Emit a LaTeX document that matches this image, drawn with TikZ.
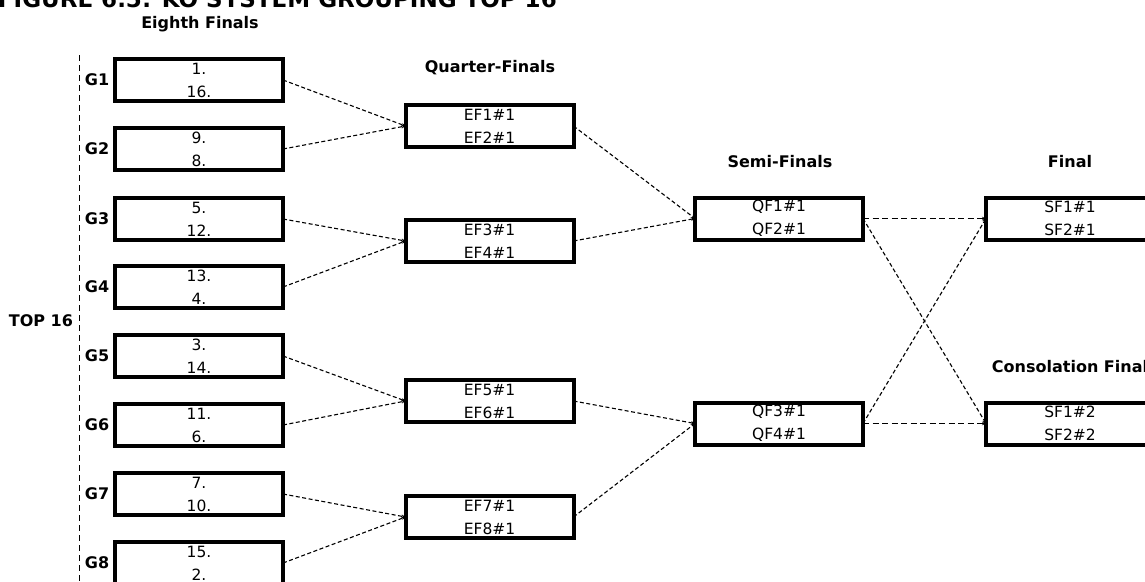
\documentclass[tikz,border=0pt]{standalone}
\usepackage{fontspec}
\setmainfont{DejaVu Sans}
\usetikzlibrary{
  arrows.meta,     % small tips on the connectors
  positioning
}
\tikzset{
  every node/.style = {inner sep=0pt, outer sep=0pt},
  match/.style = {
    rectangle,
    draw,
    line width=4pt,
    minimum width=168pt,
    minimum height=42pt,
    align=center,
    font=\fontsize{15.5}{23}\selectfont
  },
  stage/.style = {font=\fontsize{16}{18}\selectfont\bfseries},
  group/.style = {stage, anchor=center},
  title/.style = {font=\fontsize{23}{26}\selectfont\bfseries, anchor=base west},
  link/.style = {draw, dash pattern=on 4pt off 2.5pt, line width=1.1pt, ->},
  straight/.style = {link, dash pattern=on 6pt off 3.5pt},
  bracket/.style = {draw, dash pattern=on 6pt off 4pt, line width=1pt},
  >={Stealth[length=4pt,width=3.5pt]}  % arrow type
}

\begin{document}
\begin{tikzpicture}[x=1pt, y=-1pt]
\useasboundingbox (0,0) rectangle (1145,581);
\clip (0,0) rectangle (1145,581);

\node[title] (head) at (-2,7) {FIGURE 6.5: KO SYSTEM GROUPING TOP 16};

% round titles
\node[stage] (eighth) at (200,24) {Eighth Finals};
\node[stage] (quarter) at (490,68) {Quarter-Finals};
\node[stage] (semi) at (780,162) {Semi-Finals};
\node[stage] (final) at (1070,162) {Final};
\node[stage] (consol) at (1070,367) {Consolation Final};

% top 16 bracket
\coordinate (top) at (79,55);
\coordinate (bottom) at (79,590);
\draw[bracket] (top) -- (bottom);
\node[stage, anchor=east] (top16) at (73,321) {TOP 16};

% eighth finals
\node[match] (ef1) at (199,80) {1.\\16.};
\node[match] (ef2) at (199,149) {9.\\8.};
\node[match] (ef3) at (199,219) {5.\\12.};
\node[match] (ef4) at (199,287) {13.\\4.};
\node[match] (ef5) at (199,356) {3.\\14.};
\node[match] (ef6) at (199,425) {11.\\6.};
\node[match] (ef7) at (199,494) {7.\\10.};
\node[match] (ef8) at (199,563) {15.\\2.};

\node[group] (g1) at (97,80) {G1};
\node[group] (g2) at (97,149) {G2};
\node[group] (g3) at (97,219) {G3};
\node[group] (g4) at (97,287) {G4};
\node[group] (g5) at (97,356) {G5};
\node[group] (g6) at (97,425) {G6};
\node[group] (g7) at (97,494) {G7};
\node[group] (g8) at (97,563) {G8};

% quarter finals
\node[match] (qf1) at (489.5,126) {EF1\#1\\EF2\#1};
\node[match] (qf2) at (489.5,241) {EF3\#1\\EF4\#1};
\node[match] (qf3) at (489.5,401) {EF5\#1\\EF6\#1};
\node[match] (qf4) at (489.5,517) {EF7\#1\\EF8\#1};

% semi finals
\node[match] (sf1) at (779,218.5) {QF1\#1\\QF2\#1};
\node[match] (sf2) at (779,423.5) {QF3\#1\\QF4\#1};

% final and consolation final
\node[match] (fin) at (1070,218.5) {SF1\#1\\SF2\#1};
\node[match] (cons) at (1070,423.5) {SF1\#2\\SF2\#2};

\draw[link] (ef1.east) -- (qf1.west);
\draw[link] (ef2.east) -- (qf1.west);
\draw[link] (ef3.east) -- (qf2.west);
\draw[link] (ef4.east) -- (qf2.west);
\draw[link] (ef5.east) -- (qf3.west);
\draw[link] (ef6.east) -- (qf3.west);
\draw[link] (ef7.east) -- (qf4.west);
\draw[link] (ef8.east) -- (qf4.west);

\draw[link] (qf1.east) -- (sf1.west);
\draw[link] (qf2.east) -- (sf1.west);
\draw[link] (qf3.east) -- (sf2.west);
\draw[link] (qf4.east) -- (sf2.west);

\draw[straight] (sf1.east) -- (fin.west);
\draw[link] (sf1.east) -- (cons.west);
\draw[link] (sf2.east) -- (fin.west);
\draw[straight] (sf2.east) -- (cons.west);
\end{tikzpicture}
\end{document}
